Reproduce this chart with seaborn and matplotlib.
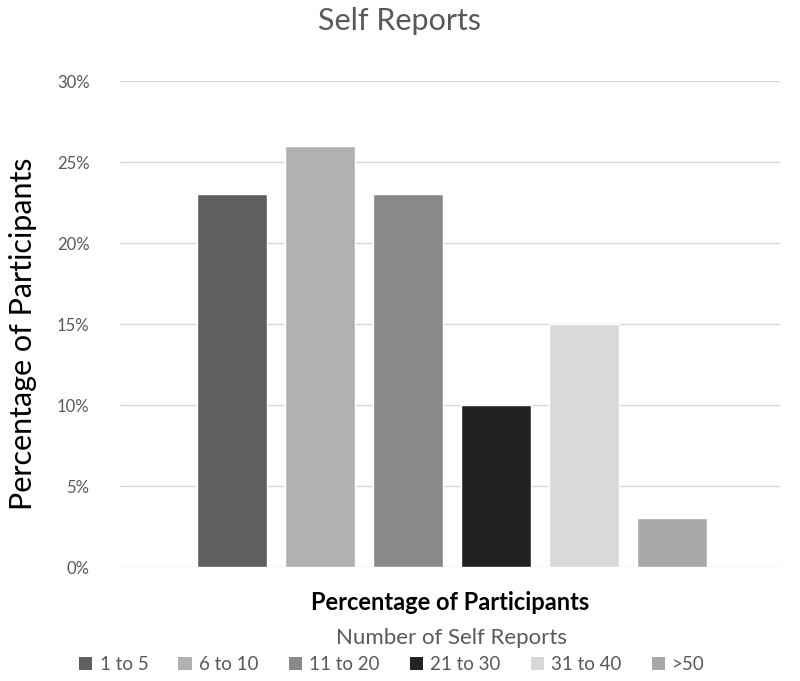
import matplotlib
matplotlib.use("Agg")
import matplotlib.pyplot as plt
import seaborn as sns
import pandas as pd
from matplotlib.ticker import PercentFormatter
from matplotlib.patches import Patch

# Data
categories = ['1 to 5', '6 to 10', '11 to 20', '21 to 30', '31 to 40', '>50']
percentages = [0.23, 0.26, 0.23, 0.10, 0.15, 0.03]
bar_colors = ['#5f5f5f', '#b1b1b1', '#898989', '#222222', '#d9d9d9', '#a8a8a8']

data = pd.DataFrame({'reports': categories, 'pct': percentages})

sns.set_style('white')
plt.rcParams['font.family'] = ['Lato', 'DejaVu Sans']

fig = plt.figure(figsize=(8, 6.81), dpi=100)
ax = fig.add_axes([0.15, 0.1674, 0.825, 0.7136])

sns.barplot(data=data, x='reports', y='pct', hue='reports',
            palette=dict(zip(categories, bar_colors)), width=0.8,
            legend=False, ax=ax, saturation=1)

ax.set_ylim(0, 0.30)
ax.set_xlim(-1.27, 6.23)
ax.set_yticks([0, 0.05, 0.10, 0.15, 0.20, 0.25, 0.30])
ax.yaxis.set_major_formatter(PercentFormatter(1.0, decimals=0))
ax.set_xticks([])
ax.tick_params(axis='y', length=0, pad=22, labelsize=12, labelcolor='#595959')
ax.grid(axis='y', color='#d9d9d9', linewidth=1)
ax.set_axisbelow(True)
for s in ax.spines.values():
    s.set_visible(False)

ax.set_xlabel('Percentage of Participants', fontsize=17, fontweight='bold',
              color='black', labelpad=17)
ax.set_ylabel('Percentage of Participants', fontsize=22, color='black')
ax.yaxis.set_label_coords(-0.125, 0.48)
fig.suptitle('Self Reports', fontsize=22, color='#595959', y=0.99)

# legend title sits off-centre to the right of the entries in the original
fig.text(0.565, 0.063, 'Number of Self Reports', fontsize=16,
         color='#595959', ha='center', va='center')
handles = [Patch(facecolor=c, edgecolor='none') for c in bar_colors]
leg = fig.legend(handles, categories, loc='lower center',
                 bbox_to_anchor=(0.49, -0.008), ncol=6, frameon=False,
                 fontsize=13.5, handlelength=0.7, handleheight=0.7,
                 handletextpad=0.4, columnspacing=1.6, borderaxespad=0.3)
for t in leg.get_texts():
    t.set_color('#595959')

fig.savefig('out.png', dpi=100)
